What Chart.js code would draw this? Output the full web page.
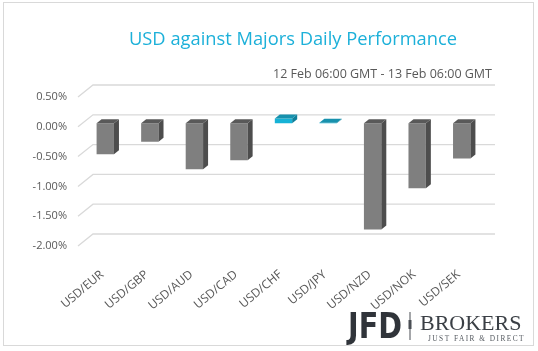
<!DOCTYPE html>
<html>
<head>
<meta charset="utf-8">
<script src="https://cdn.jsdelivr.net/npm/chart.js@4.4.1/dist/chart.umd.min.js"></script>
<style>
  html, body { margin: 0; padding: 0; background: #fff; }
  #wrap { width: 538px; height: 351px; position: relative; }
</style>
</head>
<body>
<div id="wrap"><canvas id="perfChart" width="538" height="351"></canvas></div>
<script>
// USD against majors, % change 12 Feb 06:00 -> 13 Feb 06:00 GMT
const pairs = ['USD/EUR', 'USD/GBP', 'USD/AUD', 'USD/CAD', 'USD/CHF', 'USD/JPY', 'USD/NZD', 'USD/NOK', 'USD/SEK'];
const changes = [-0.52, -0.31, -0.77, -0.62, 0.08, 0.01, -1.78, -1.09, -0.59];
const yMin = -2.0;
const yMax = 0.5;
const yStep = 0.5;

const titleText = 'USD against Majors Daily Performance';
const subtitleText = '12 Feb 06:00 GMT - 13 Feb 06:00 GMT';

const GRAY_FRONT = '#7f7f7f';
const GRAY_SIDE = '#4d4d4d';
const GRAY_TOP = '#595959';
const CYAN_FRONT = '#16b2d6';
const CYAN_SIDE = '#0f7f9a';
const CYAN_TOP = '#1791ad';
const DX = 5, DY = -4;   // bar depth

// back wall gridlines (excel 3d look)
const wallPlugin = {
    id: 'wall',
    beforeDatasetsDraw(chart) {
        const ctx = chart.ctx;
        const y = chart.scales.y;
        const area = chart.chartArea;
        ctx.save();
        ctx.strokeStyle = '#d9d9d9';
        ctx.lineWidth = 1.3;
        y.ticks.forEach(t => {
            const p = y.getPixelForValue(t.value);
            ctx.beginPath();
            ctx.moveTo(area.left - 5, p + 3.5);
            ctx.lineTo(area.left + 10, p - 8.5);
            ctx.lineTo(area.right + 11, p - 8.5);
            ctx.stroke();
        });
        ctx.restore();
    }
};

// side + top faces of each bar
const depthPlugin = {
    id: 'depth',
    afterDatasetsDraw(chart) {
        const ctx = chart.ctx;
        const meta = chart.getDatasetMeta(0);
        ctx.save();
        meta.data.forEach((bar, i) => {
            const pos = changes[i] >= 0;
            const half = bar.width / 2;
            const l = bar.x - half, r = bar.x + half;
            const top = Math.min(bar.y, bar.base);
            const bot = Math.max(bar.y, bar.base);
            ctx.fillStyle = pos ? CYAN_SIDE : GRAY_SIDE;
            ctx.beginPath();
            ctx.moveTo(r, top);
            ctx.lineTo(r + DX, top + DY);
            ctx.lineTo(r + DX, bot + DY);
            ctx.lineTo(r, bot);
            ctx.closePath();
            ctx.fill();
            ctx.fillStyle = pos ? CYAN_TOP : GRAY_TOP;
            ctx.beginPath();
            ctx.moveTo(l, top);
            ctx.lineTo(l + DX, top + DY);
            ctx.lineTo(r + DX, top + DY);
            ctx.lineTo(r, top);
            ctx.closePath();
            ctx.fill();
        });
        ctx.restore();
    }
};

// title, subtitle, frame and logo
const decorPlugin = {
    id: 'decor',
    afterDraw(chart) {
        const ctx = chart.ctx;
        ctx.save();
        ctx.strokeStyle = '#d9d9d9';
        ctx.lineWidth = 1;
        ctx.strokeRect(3.5, 2.5, 530, 343);

        ctx.fillStyle = '#1cb0d9';
        ctx.font = '18.5px "Open Sans"';
        ctx.textAlign = 'center';
        ctx.textBaseline = 'alphabetic';
        ctx.fillText(titleText, 293, 45, 328);

        ctx.fillStyle = '#595959';
        ctx.font = '12.5px "Open Sans"';
        ctx.textAlign = 'right';
        ctx.fillText(subtitleText, 492, 78, 219);

        // logo
        ctx.textAlign = 'left';
        ctx.fillStyle = '#30343a';
        ctx.font = 'bold 35px "DejaVu Sans"';
        ctx.fillText('JFD', 348, 338, 54);
        ctx.fillStyle = '#4a4e54';
        ctx.fillRect(409.5, 312, 1, 28);
        ctx.fillRect(408.5, 320, 3, 9);
        ctx.fillStyle = '#3a3f45';
        ctx.font = '22px "Liberation Serif"';
        ctx.fillText('BROKERS', 420, 330, 104);
        ctx.fillStyle = '#555a60';
        ctx.font = '8px "Liberation Serif"';
        ctx.letterSpacing = '1.6px';
        ctx.fillText('JUST FAIR & DIRECT', 428, 341, 97);
        ctx.restore();
    }
};

const ctx = document.getElementById('perfChart').getContext('2d');
new Chart(ctx, {
    type: 'bar',
    data: {
        labels: pairs,
        datasets: [{
            label: 'Daily change',
            data: changes,
            backgroundColor: changes.map(v => v >= 0 ? CYAN_FRONT : GRAY_FRONT),
            borderWidth: 0,
            barPercentage: 0.39,
            categoryPercentage: 1.0
        }]
    },
    options: {
        responsive: false,
        animation: false,
        layout: { padding: { top: 93.5, right: 54, left: 0, bottom: 0 } },
        plugins: {
            legend: { display: false },
            tooltip: { enabled: false }
        },
        scales: {
            x: {
                grid: { display: false },
                border: { display: false },
                ticks: {
                    autoSkip: false,
                    minRotation: 40,
                    maxRotation: 40,
                    padding: 17,
                    labelOffset: -3,
                    color: '#595959',
                    font: { family: 'Open Sans', size: 12 }
                },
                afterFit(scale) { scale.height = 108.5; }
            },
            y: {
                min: yMin,
                max: yMax,
                grid: { display: false },
                border: { display: false },
                ticks: {
                    stepSize: yStep,
                    padding: 8,
                    labelOffset: 3.5,
                    color: '#595959',
                    font: { family: 'Open Sans', size: 11 },
                    callback: v => v.toFixed(2) + '%'
                },
                afterFit(scale) { scale.width = 83; }
            }
        }
    },
    plugins: [wallPlugin, depthPlugin, decorPlugin]
});
</script>
</body>
</html>
